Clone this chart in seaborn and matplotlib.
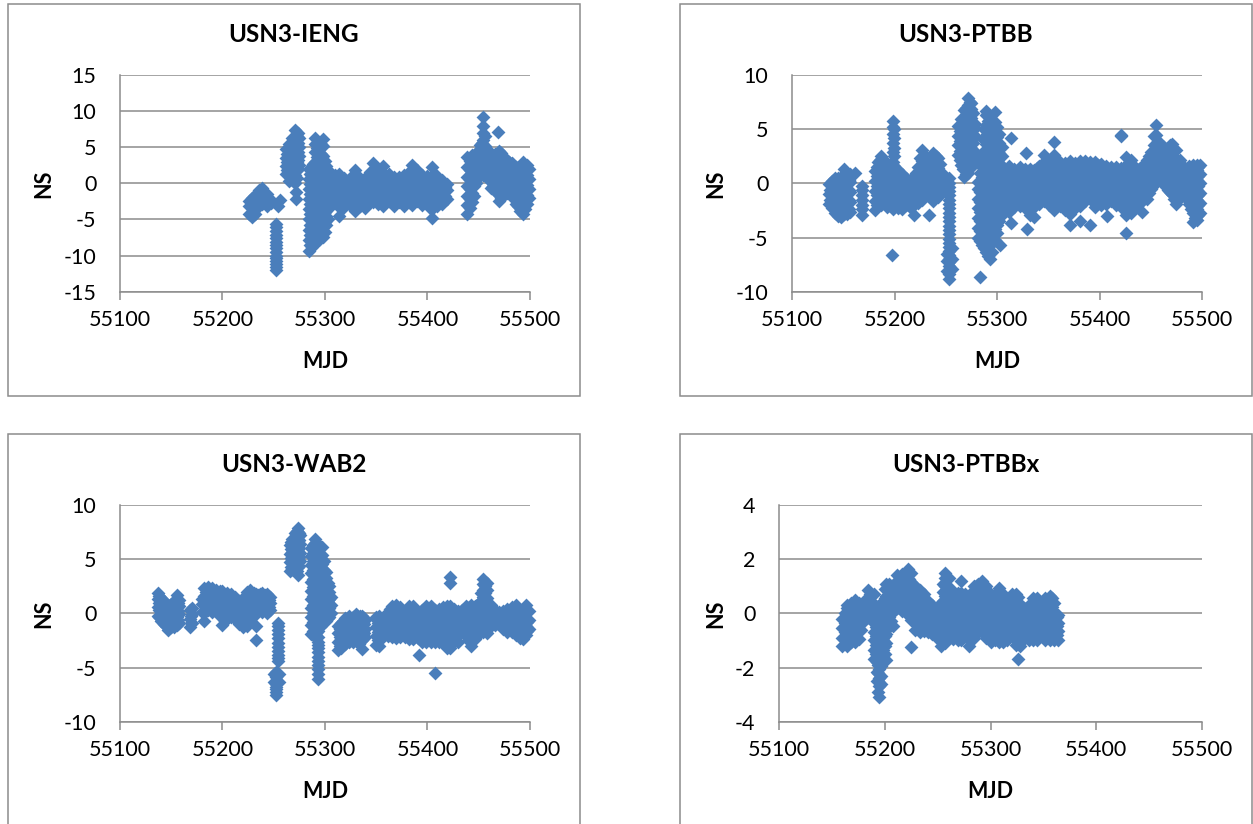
import matplotlib
matplotlib.use('Agg')
import matplotlib.pyplot as plt
import pandas as pd
import seaborn as sns
from matplotlib.patches import Rectangle

FIG_W, FIG_H = 1253, 824
BLUE = '#4a7ebb'
GREY = '#8c8c8c'

x_ticks = [55100, 55200, 55300, 55400, 55500]

titles = ['USN3-IENG', 'USN3-PTBB', 'USN3-WAB2', 'USN3-PTBBx']
y_ticks_ieng = [-15, -10, -5, 0, 5, 10, 15]
y_ticks_ptbb = [-10, -5, 0, 5, 10]
y_ticks_wab2 = [-10, -5, 0, 5, 10]
y_ticks_ptbbx = [-4, -2, 0, 2, 4]

ieng_days = [55226, 55229, 55232, 55236, 55239, 55243, 55247, 55254, 55256, 55252,
             55262, 55265, 55268, 55271, 55272, 55274,
             55284, 55287, 55290, 55294, 55298, 55301,
             55305, 55310, 55314, 55319, 55324, 55329, 55334, 55339, 55344, 55347,
             55352, 55357, 55362, 55367, 55372, 55377, 55382, 55385, 55390, 55395,
             55400, 55404, 55409, 55414, 55419,
             55439, 55443, 55447, 55451, 55454, 55458, 55462, 55466, 55469, 55470,
             55474, 55478, 55482, 55486, 55490, 55493, 55497, 55499]
ieng_ns = [[-4.2, -3.2, -2.4], [-4.6, -3.4, -2.0], [-4.2, -2.9, -1.6], [-3.0, -1.9, -0.9],
           [-2.9, -1.7, -0.6], [-3.2, -2.3, -1.5], [-2.7, -2.3], [-3.2], [-2.3],
           [-5.6, -6.6, -7.6, -8.6, -9.5, -10.4, -11.2, -12.0],
           [1.3, 2.4, 3.5, 4.7], [0.3, 1.4, 2.5, 3.6, 4.7, 5.4], [0.4, 1.6, 2.8, 4.0, 5.2, 6.3],
           [0.1, 1.2, 2.4, 3.6, 4.8, 6.0, 7.4], [-2.2, -1.2], [2.0, 3.2, 4.4, 5.6, 7.0],
           [-9.3, -7.8, -6.4, -5.0, -3.6, -2.2, -0.8, 0.6, 2.0],
           [-8.8, -7.4, -6.0, -4.6, -3.2, -1.8, -0.4, 1.0, 2.4],
           [-8.2, -6.8, -5.4, -4.0, -2.6, -1.2, 0.2, 1.6, 3.0, 4.4, 5.4, 6.3],
           [-7.8, -6.3, -5.0, -3.6, -2.2, -0.8, 0.6, 2.0, 3.4, 4.8, 5.6],
           [-7.4, -6.0, -4.6, -3.2, -1.8, -0.4, 1.0, 2.4, 3.8, 5.2, 6.2],
           [-5.8, -4.5, -3.0, -1.6, -0.2, 1.2, 2.4],
           [-3.2, -1.8, -0.4, 1.0], [-2.6, -1.2, 0.2, 1.2], [-4.5, -3.3, -1.9, -0.5, 0.9, 1.3],
           [-2.8, -1.4, 0.0, 0.8], [-3.0, -1.6, -0.2, 0.8], [-3.8, -2.4, -1.0, 0.4, 1.9],
           [-3.2, -1.8, -0.4, 0.8], [-3.4, -2.0, -0.6, 0.8], [-2.6, -1.2, 0.2, 1.6],
           [-2.6, -1.2, 0.2, 1.6, 2.8], [-2.9, -1.5, -0.1, 1.3, 1.9], [-3.1, -1.7, -0.3, 1.1, 2.4],
           [-2.5, -1.1, 0.3, 1.3], [-3.1, -1.7, -0.3, 0.9], [-2.6, -1.2, 0.2, 0.9],
           [-3.1, -1.7, -0.3, 1.1], [-2.6, -1.2, 0.2, 1.6], [-3.0, -1.6, -0.2, 1.2, 2.6],
           [-2.4, -1.0, 0.4, 1.8], [-3.0, -1.6, -0.2, 1.1], [-2.8, -1.4, 0.0, 1.0],
           [-4.8, -3.6, -2.2, -0.8, 0.6, 2.2], [-3.2, -1.8, -0.4, 0.8], [-2.9, -1.5, -0.1, 0.4],
           [-2.2, -0.9, -0.1],
           [-4.3, -3.0, -1.7, -0.4, 0.9, 2.2, 3.6], [-2.6, -1.3, 0.0, 1.3, 2.6, 3.9],
           [0.1, 1.3, 2.5, 3.8, 4.2], [1.3, 2.6, 3.9, 5.3],
           [1.1, 2.4, 3.7, 5.0, 6.0, 7.0, 7.9, 9.2], [1.5, 2.8, 3.9, 4.8],
           [-0.6, 0.8, 2.1, 3.4, 3.8], [-1.0, 0.3, 1.7, 3.1, 4.0], [7.15],
           [-2.4, -1.0, 0.4, 1.8, 3.2, 4.5], [-1.8, -0.5, 0.9, 2.3, 3.6],
           [-1.4, -0.1, 1.3, 2.7, 3.3], [-1.8, -0.5, 0.9, 2.2, 2.8], [-2.8, -1.4, 0.0, 1.4, 2.2],
           [-3.8, -2.4, -1.0, 0.4, 1.8, 2.2], [-4.3, -3.0, -1.7, -0.3, 1.1, 2.9],
           [-2.9, -1.6, -0.2, 1.2, 2.6], [-2.0, -0.8, 0.6, 2.0]]

# second reading pass, the points inside the solid parts of the cloud
ieng_inner_days = [55233, 55252, 55263, 55266, 55269, 55272.5, 55275,
                   55285.5, 55288.5, 55292, 55296, 55300, 55303,
                   55307.5, 55312, 55317, 55322, 55327, 55332, 55337, 55342, 55350, 55355,
                   55360, 55365, 55370, 55375, 55380, 55388, 55393, 55398, 55402, 55407,
                   55412, 55417, 55441, 55445, 55449, 55453, 55456, 55460, 55464, 55468,
                   55472, 55476, 55480, 55484, 55488, 55491.5, 55495]
ieng_inner_ns = [[-3.6, -2.3], [-6.1, -7.1, -8.1, -9.0, -10.0, -10.8, -11.6],
                 [1.9, 3.0, 4.1], [0.9, 2.0, 3.1, 4.2, 5.0], [1.0, 2.2, 3.4, 4.6, 5.8],
                 [0.7, 1.8, 3.0, 4.2, 5.4, 6.6], [2.6, 3.8, 5.0, 6.3],
                 [-8.6, -7.1, -5.7, -4.3, -2.9, -1.5, -0.1, 1.3],
                 [-8.5, -7.1, -5.7, -4.3, -2.9, -1.5, -0.1, 1.3, 2.7],
                 [-7.5, -6.1, -4.7, -3.3, -1.9, -0.5, 0.9, 2.3, 3.7, 4.9],
                 [-7.1, -5.6, -4.3, -2.9, -1.5, -0.1, 1.3, 2.7, 4.1, 5.5],
                 [-6.7, -5.3, -3.9, -2.5, -1.1, 0.3, 1.7, 3.1], [-4.9, -3.5, -2.1, -0.7, 0.7, 1.8],
                 [-2.5, -1.1, 0.3], [-2.0, -0.6, 0.7], [-3.5, -2.1, -0.7, 0.5], [-2.3, -0.9, 0.3],
                 [-3.1, -1.7, -0.3, 1.0], [-2.6, -1.1, 0.4], [-2.6, -1.2, 0.1], [-2.0, -0.6, 0.8],
                 [-2.0, -0.6, 0.8, 2.0], [-2.3, -0.9, 0.5, 1.7], [-1.8, -0.4, 0.9], [-2.4, -1.0, 0.4],
                 [-1.9, -0.5, 0.5], [-2.4, -1.0, 0.3], [-1.9, -0.5, 0.9], [-2.3, -0.9, 0.5, 1.9],
                 [-2.4, -0.9, 0.6], [-2.1, -0.7, 0.5], [-3.4, -2.1, -0.7, 0.7], [-2.5, -1.1, 0.3, 1.3],
                 [-2.3, -0.9, 0.3], [-1.8, -0.5],
                 [-3.4, -2.1, -0.8, 0.5, 1.8, 3.1], [-1.7, -0.4, 0.9, 2.2, 3.5], [0.7, 2.0, 3.2, 4.5],
                 [1.7, 3.0, 4.4, 5.6], [1.4, 2.7, 3.9, 5.2, 6.5], [0.4, 1.7, 3.0, 4.1],
                 [-0.3, 1.0, 2.4, 3.8], [-1.4, -0.2, 1.1, 2.5, 3.9], [-2.0, -0.7, 0.7, 2.0, 3.4, 4.2],
                 [-1.2, 0.2, 1.6, 3.0], [-1.1, 0.4, 1.8, 2.9], [-2.1, -0.9, 0.5, 1.8],
                 [-3.2, -1.9, -0.5, 0.9, 2.0], [-3.6, -2.3, -1.0, 0.4, 1.6, 2.6],
                 [-3.5, -2.2, -0.9, 0.5, 1.9, 2.5]]

ptbb_days = [55136, 55139, 55142, 55145, 55148, 55151, 55154, 55157, 55161, 55168,
             55181, 55184, 55187, 55190, 55193, 55198, 55199, 55203, 55207, 55211, 55215,
             55219, 55223, 55227, 55230, 55234, 55238, 55242, 55246,
             55251, 55253, 55256, 55262, 55265, 55268, 55272, 55275, 55279,
             55281, 55283, 55285, 55289, 55293, 55298, 55302, 55303,
             55307, 55312, 55314, 55317, 55322, 55327, 55328, 55329, 55332, 55336,
             55341, 55346, 55351, 55356, 55361, 55366, 55371, 55376, 55381, 55386,
             55391, 55396, 55401, 55406, 55407, 55411, 55416, 55421, 55426, 55431,
             55436, 55441, 55446, 55450, 55455, 55459, 55463, 55467, 55471, 55475,
             55479, 55483, 55487, 55491, 55495, 55498]
ptbb_ns = [[-1.9, -1.0, -0.1], [-2.3, -1.4, -0.5, 0.2], [-2.7, -1.8, -0.9, 0.0, 0.5],
           [-3.0, -2.2, -1.3, -0.4, 0.5], [-3.1, -2.2, -1.3, -0.4, 0.5],
           [-2.8, -1.9, -1.0, -0.1, 0.8, 1.3], [-2.8, -1.9, -1.0, -0.1, 0.7],
           [-2.6, -1.7, -0.8, 0.1, 0.9], [1.0], [-2.9, -2.0, -1.1, -0.2],
           [-2.5, -1.6, -0.7, 0.2, 1.1], [-1.6, -0.7, 0.2, 1.1, 2.0],
           [-2.0, -1.1, -0.2, 0.7, 1.6, 2.5], [-1.6, -0.7, 0.2, 1.1, 2.0],
           [-2.2, -1.3, -0.4, 0.5, 1.4, 1.9], [-6.6],
           [-2.4, -1.5, -0.6, 0.3, 1.2, 2.0, 2.9, 3.7, 4.6, 5.2, 5.75],
           [-2.3, -1.4, -0.5, 0.4, 1.2], [-2.4, -1.5, -0.6, 0.3, 0.9], [-2.0, -1.1, -0.2, 0.5],
           [-2.2, -1.3, -0.4, 0.3], [-2.9, -2.0, -1.1, -0.2, 0.6], [-1.8, -0.9, 0.0, 0.9, 1.5],
           [-1.5, -0.6, 0.3, 1.2, 2.1, 3.1], [-1.2, -0.3, 0.6, 1.5, 2.4],
           [-2.9, -1.1, -0.2, 0.7, 1.6, 2.2], [-1.6, -0.7, 0.2, 1.1, 2.0, 2.8],
           [-1.3, -0.4, 0.5, 1.4, 2.3], [-0.8, 0.1, 1.0],
           [-6.5, -7.2, -8.1],
           [0.45, -0.3, -1.1, -1.9, -2.7, -3.5, -4.3, -5.1, -5.9, -6.6, -7.3, -8.0, -8.8],
           [-6.0, -7.0, -7.9],
           [2.6, 3.5, 4.4, 5.3], [1.7, 2.6, 3.5, 4.4, 5.3, 5.9],
           [0.6, 1.4, 2.3, 3.2, 4.1, 5.0, 5.9, 6.8], [1.0, 1.9, 2.8, 3.7, 4.6, 5.5, 6.4, 7.2, 7.9],
           [1.5, 2.4, 3.3, 4.2, 5.0, 6.0, 6.9, 7.4], [2.0, 2.9, 4.3, 5.1, 5.5],
           [-5.0, -4.1, -3.2, -2.3, -1.4, -0.5, 0.1], [-8.6],
           [-5.7, -4.8, -3.9, -3.0, -2.1, -1.2, -0.3, 0.6, 1.5, 2.4],
           [-6.3, -5.4, -4.5, -3.6, -2.7, -1.8, -0.9, 0.0, 0.9, 1.8, 2.7, 3.6, 4.5, 5.4, 6.3, 6.7],
           [-7.0, -5.7, -4.8, -3.9, -3.0, -2.1, -1.2, -0.3, 0.6, 1.5, 2.4, 3.3, 4.2, 5.1, 6.0],
           [-5.2, -4.2, -3.3, -2.4, -1.5, -0.6, 0.3, 1.2, 2.1, 3.0, 3.9, 4.8, 5.7, 6.55],
           [-3.5, -2.6, -1.7, -0.8, 0.1, 1.0, 1.9, 2.8, 3.7, 4.6], [-5.7],
           [-2.3, -1.4, -0.5, 0.4, 1.3], [-2.6, -1.7, -0.8, 0.1, 1.0, 1.6], [-3.7, 4.2],
           [-2.2, -1.3, -0.4, 0.5, 1.3], [-2.1, -1.2, -0.3, 0.6, 1.5],
           [-2.3, -1.4, -0.5, 0.4, 1.3], [2.8], [-4.2], [-2.9, -2.0, -1.1, -0.2, 0.7, 1.3],
           [-3.1, -2.2, -1.3, -0.4, 0.5, 1.2],
           [-1.9, -1.0, -0.1, 0.8, 1.6], [-1.6, -0.7, 0.2, 1.1, 2.0, 2.6],
           [-2.0, -1.1, -0.2, 0.7, 1.6, 2.1], [-2.5, -1.6, -0.7, 0.2, 1.1, 2.0, 2.6, 3.85],
           [-2.1, -1.2, -0.3, 0.6, 1.5, 2.0], [-2.5, -1.6, -0.7, 0.2, 1.1, 1.9],
           [-3.85, -2.8, -1.9, -1.0, -0.1, 0.8, 1.7, 2.1], [-2.3, -1.4, -0.5, 0.4, 1.3, 1.9],
           [-3.5, -2.1, -1.2, -0.3, 0.6, 1.5, 2.1], [-1.6, -0.7, 0.2, 1.1, 2.1],
           [-3.8, -1.4, -0.5, 0.4, 1.3, 2.0], [-2.2, -1.2, -0.3, 0.6, 1.5, 2.0],
           [-2.0, -1.1, -0.2, 0.7, 1.6, 1.8], [-1.9, -1.0, -0.1, 0.8, 1.6], [-3.0],
           [-1.6, -0.7, 0.2, 1.1, 1.5], [-2.0, -1.1, -0.2, 0.7, 1.5],
           [-2.2, -1.3, -0.4, 0.5, 1.4, 4.4, 4.5], [-4.55, -2.9, -2.0, -1.1, -0.2, 0.7, 1.6, 2.4],
           [-2.7, -1.8, -0.9, 0.0, 0.9, 1.8, 2.2], [-2.2, -1.3, -0.4, 0.5, 1.4],
           [-2.6, -1.6, -0.7, 0.2, 1.1, 1.6], [-1.4, -0.5, 0.4, 1.3, 2.2],
           [-0.5, 0.4, 1.3, 2.2, 2.9], [0.0, 0.9, 1.8, 2.7, 3.6, 4.5, 5.4],
           [0.3, 1.2, 2.1, 3.0, 3.5], [0.1, 1.0, 1.9, 2.8, 3.4], [-0.6, 0.3, 1.2, 2.1, 3.0],
           [-1.0, -0.1, 0.8, 1.7, 2.6, 3.6], [-1.9, -1.0, -0.1, 0.8, 1.7, 3.1],
           [-1.2, -0.3, 0.6, 1.5, 2.2], [-1.3, -0.4, 0.5, 1.2], [-1.9, -1.0, -0.1, 0.8, 1.6],
           [-3.6, -2.7, -1.8, -0.9, 0.0, 0.9, 1.7], [-3.4, -2.4, -1.5, -0.6, 0.3, 1.2, 1.7],
           [-2.7, -1.8, -0.9, 0.0, 0.9, 1.7]]

ptbb_inner_days = [55137.5, 55140.5, 55143.5, 55146.5, 55149.5, 55152.5, 55155.5, 55168,
                   55182.5, 55185.5, 55188.5, 55191.5, 55195, 55199.5, 55201, 55205, 55209,
                   55213, 55217, 55221, 55225, 55228.5, 55232, 55236, 55240, 55244, 55253,
                   55263.5, 55266.5, 55270, 55273.5, 55277,
                   55283, 55287, 55291, 55295.5, 55300, 55304.5,
                   55310, 55320, 55330, 55339, 55349, 55359, 55369, 55379, 55389, 55399,
                   55409, 55419, 55429, 55439,
                   55448, 55453, 55457, 55461, 55465, 55469, 55473, 55477, 55481, 55485,
                   55489, 55493, 55496.5]
ptbb_inner_ns = [[-1.5, -0.6], [-1.9, -1.0, -0.2], [-2.3, -1.4, -0.5, 0.2], [-2.6, -1.7, -0.8, 0.1],
                 [-2.7, -1.8, -0.9, 0.0, 0.8], [-2.4, -1.5, -0.6, 0.3], [-2.4, -1.5, -0.6, 0.3],
                 [-2.4, -1.5, -0.6],
                 [-2.0, -1.1, -0.2, 0.7, 1.5], [-1.2, -0.3, 0.6, 1.6, 2.2], [-1.4, -0.5, 0.4, 1.3, 2.2],
                 [-1.9, -1.0, -0.1, 0.8, 1.7], [-2.0, -1.1, -0.2, 0.7, 1.5],
                 [-2.0, -1.0, -0.1, 0.8, 1.6, 2.5, 3.3, 4.2, 5.0], [-1.9, -1.0, -0.1, 0.8],
                 [-2.0, -1.1, -0.2, 0.7], [-1.7, -0.8, 0.1], [-1.7, -0.8, 0.0], [-1.8, -0.9, 0.0],
                 [-1.5, -0.6, 0.3, 1.0], [-1.2, -0.3, 0.6, 1.5, 2.3], [-1.0, -0.1, 0.8, 1.7, 2.6],
                 [-0.7, 0.2, 1.1, 2.0], [-0.7, 0.2, 1.1, 2.0], [-1.0, -0.1, 0.8, 1.7, 2.5],
                 [-0.9, 0.0, 0.9, 1.8],
                 [0.0, -0.7, -1.5, -2.3, -3.1, -3.9, -4.7, -5.5, -6.2, -7.0, -7.6, -8.4],
                 [2.2, 3.0, 3.9, 4.8], [1.3, 2.2, 3.1, 4.0, 4.9, 5.7],
                 [0.9, 1.8, 2.7, 3.6, 4.5, 5.4, 6.3, 7.0], [1.4, 2.3, 3.2, 4.1, 5.0, 5.9, 6.8, 7.5],
                 [1.8, 2.8, 3.7, 4.6, 5.5, 6.5],
                 [-5.3, -4.4, -3.5, -2.6, -1.7, -0.8, 0.1, 1.0],
                 [-6.0, -5.1, -4.2, -3.3, -2.4, -1.5, -0.6, 0.3, 1.2, 2.1, 3.0, 4.0, 5.0],
                 [-6.7, -5.9, -5.0, -4.1, -3.2, -2.3, -1.4, -0.5, 0.4, 1.3, 2.2, 3.1, 4.0, 4.9, 5.8],
                 [-6.3, -5.2, -4.4, -3.5, -2.6, -1.7, -0.8, 0.1, 1.0, 1.9, 2.8, 3.7, 4.6, 5.5],
                 [-4.6, -3.8, -2.9, -2.0, -1.1, -0.2, 0.7, 1.6, 2.5, 3.4, 4.3, 5.2],
                 [-2.9, -2.0, -1.1, -0.2, 0.7, 1.6, 2.5, 3.4],
                 [-1.9, -1.2, -0.5, 0.2, 0.9], [-1.8, -0.9, -0.1, 0.7, 1.2], [-1.9, -1.1, -0.2, 0.6, 1.1],
                 [-1.6, -0.9, 0.0, 0.8, 1.4], [-1.5, -0.8, 0.1, 0.9, 1.7], [-1.7, -0.9, 0.0, 0.8, 1.7],
                 [-2.0, -1.2, -0.3, 0.5, 1.4], [-1.8, -0.9, -0.1, 0.8, 1.7], [-1.2, -0.4, 0.5, 1.4],
                 [-1.7, -0.8, 0.1, 1.0, 1.7], [-1.5, -0.6, 0.3, 1.1], [-1.8, -0.9, 0.0, 0.9],
                 [-2.2, -1.4, -0.5, 0.4, 1.3, 2.0], [-1.9, -1.0, -0.1, 0.8, 1.3],
                 [-0.9, 0.0, 0.9, 1.8, 2.5], [-0.1, 0.8, 1.7, 2.6, 3.5, 4.4], [0.4, 1.3, 2.2, 3.1, 3.9],
                 [0.6, 1.5, 2.4, 3.3], [-0.3, 0.6, 1.5, 2.4, 3.2], [-0.8, 0.1, 1.0, 1.9, 2.8, 3.5],
                 [-1.4, -0.5, 0.4, 1.3, 2.2, 3.2], [-1.5, -0.6, 0.3, 1.2, 2.1], [-1.0, -0.1, 0.8, 1.6],
                 [-1.4, -0.5, 0.4, 1.3], [-2.4, -1.5, -0.6, 0.3, 1.2],
                 [-3.2, -2.3, -1.4, -0.5, 0.4, 1.3], [-2.9, -2.0, -1.1, -0.2, 0.7, 1.5]]

wab2_days = [55137, 55140, 55143, 55147, 55150, 55153, 55156, 55158, 55168, 55170,
             55180, 55182, 55186, 55190, 55194, 55198, 55200, 55204, 55208, 55212, 55216,
             55220, 55224, 55227, 55231, 55233, 55235, 55239, 55243, 55246,
             55254, 55252, 55250, 55255, 55266, 55268, 55271, 55274, 55276,
             55286, 55290, 55293, 55297, 55301, 55304, 55306,
             55313, 55316, 55320, 55323, 55327, 55330, 55333, 55336, 55339,
             55350, 55353, 55357, 55361, 55365, 55369, 55373, 55378, 55382, 55386,
             55391, 55392, 55395, 55399, 55403, 55407, 55411, 55415, 55419, 55422,
             55426, 55430, 55434, 55438, 55442, 55446, 55450, 55454, 55458, 55462,
             55466, 55470, 55474, 55478, 55482, 55486, 55490, 55493, 55496, 55499]
wab2_ns = [[-0.2, 0.6, 1.3, 1.9], [-0.7, 0.1, 0.9, 1.4], [-1.0, -0.2, 0.6, 1.1],
           [-1.5, -0.7, 0.1, 0.8], [-1.3, -0.5, 0.3, 0.9], [-1.3, -0.5, 0.3, 1.1],
           [-1.1, -0.3, 0.5, 1.3, 1.7], [-0.9, -0.1, 0.7, 1.2], [-1.3, -0.5, 0.3],
           [-0.9, -0.1, 0.5],
           [0.1, 0.9, 1.3], [-0.75, 0.0, 0.8, 1.6, 2.3], [0.3, 1.1, 1.9, 2.4], [0.1, 0.9, 1.7, 2.3],
           [0.3, 1.1, 1.9, 2.2], [-0.2, 0.6, 1.4, 2.1], [-1.1, -0.3, 0.5, 1.3, 2.1],
           [-0.4, 0.4, 1.2, 1.9], [-0.3, 0.5, 1.3, 1.8], [-0.5, 0.3, 1.1, 1.5], [-1.0, -0.2, 0.6, 1.1],
           [-1.3, -0.5, 0.3, 0.9], [-1.2, -0.4, 0.4, 1.2, 2.0], [-0.8, 0.0, 0.8, 1.6, 2.15],
           [-0.2, 0.6, 1.4, 1.9], [-1.2, -2.5], [0.2, 1.0, 1.7], [0.1, 0.9, 1.7, 1.9],
           [0.0, 0.7, 1.4, 1.8], [0.3, 1.0, 1.5],
           [-0.85, -1.5, -2.3, -3.1, -3.8, -4.4], [-5.4, -5.9, -6.5, -7.0, -7.5], [-5.6, -6.3], [-5.6, -6.3],
           [3.9, 4.7, 5.5, 6.3], [4.1, 4.9, 5.7, 6.5, 6.9], [4.2, 5.0, 5.8, 6.6, 7.4],
           [3.5, 4.3, 5.1, 5.9, 6.7, 7.5, 7.9], [4.8, 5.6, 6.4, 7.2],
           [-1.9, -1.1, -0.3, 0.5, 1.3, 2.1, 2.9, 3.7, 4.5, 5.3, 6.0],
           [-2.2, -1.4, -0.6, 0.2, 1.0, 1.8, 2.6, 3.4, 4.2, 5.0, 5.8, 6.5, 6.9],
           [-6.1, -5.1, -4.4, -3.6, -2.9, -2.2, -1.6, -0.8, 0.0, 0.8, 1.6, 2.4, 3.2, 4.0, 4.8, 5.6, 6.4],
           [-1.0, -0.2, 0.6, 1.4, 2.2, 3.0, 3.8, 4.6, 5.4, 6.1],
           [-0.7, 0.1, 0.9, 1.7, 2.5, 3.3, 3.8], [-0.3, 0.5, 1.3, 2.0, 2.5], [0.0, 0.8, 1.5],
           [-3.4, -2.6, -1.8, -1.2], [-3.2, -2.4, -1.6, -0.9], [-2.8, -2.0, -1.2, -0.4],
           [-2.6, -1.8, -1.0, -0.2], [-2.6, -1.8, -1.0, -0.3], [-2.4, -1.6, -0.8, -0.1],
           [-2.8, -2.0, -1.2, -0.4], [-3.3, -2.5, -1.7, -0.9, -0.2], [-2.2, -1.4, -0.6],
           [-2.9, -2.1, -1.3, -0.5, -0.3], [-3.0, -2.2, -1.4, -0.6, -0.2], [-2.2, -1.4, -0.6],
           [-2.1, -1.3, -0.5, 0.1], [-2.2, -1.4, -0.6, 0.2, 0.7], [-2.3, -1.5, -0.7, 0.1, 0.75],
           [-2.2, -1.4, -0.6, 0.2, 0.6], [-2.2, -1.4, -0.6, 0.2], [-2.4, -1.6, -0.8, 0.0, 0.7],
           [-2.4, -1.6, -0.8, 0.0, 0.7], [-2.3, -1.5, -0.7, 0.1], [-3.85],
           [-2.6, -1.8, -1.0, -0.2, 0.3], [-2.6, -1.8, -1.0, -0.2, 0.7], [-2.6, -1.8, -1.0, -0.2, 0.7],
           [-5.5, -2.6, -1.8, -1.0, -0.2, 0.3], [-2.6, -1.8, -1.0, -0.2, 0.4],
           [-2.7, -1.9, -1.1, -0.3, 0.6], [-3.2, -2.4, -1.6, -0.8, 0.0, 0.7],
           [-3.2, -2.4, -1.6, -0.8, 0.0, 0.7, 2.8, 3.4], [-2.6, -1.8, -1.0, -0.2, 0.4],
           [-2.6, -1.8, -1.0, -0.2, 0.2], [-1.7, -0.9, -0.1, 0.3], [-2.0, -1.2, -0.4, 0.4, 0.7],
           [-3.0, -2.2, -1.4, -0.6, 0.2, 0.8], [-2.4, -1.6, -0.8, 0.0, 0.7], [-1.9, -1.1, -0.3, 0.5, 1.0],
           [-1.7, -0.9, -0.1, 0.7, 1.5, 2.2, 2.7, 3.15], [-1.8, -1.0, -0.2, 0.6, 1.4, 2.2, 2.8],
           [-1.2, -0.4, 0.4, 0.8], [-1.1, -0.3, 0.3], [-1.0, -0.2, 0.1], [-1.4, -0.6, 0.2],
           [-1.7, -0.9, -0.1, 0.4], [-1.7, -0.9, -0.1, 0.6], [-2.0, -1.2, -0.4, 0.4, 0.75],
           [-2.3, -1.5, -0.7, 0.1, 0.3], [-2.4, -1.6, -0.8, 0.0, 0.3], [-2.0, -1.2, -0.4, 0.4, 0.75],
           [-1.4, -0.6, 0.2]]

wab2_inner_days = [55138.5, 55141.5, 55145, 55148.5, 55151.5, 55154.5, 55157, 55169,
                   55184, 55188, 55192, 55196, 55202, 55206, 55210, 55214, 55218, 55222,
                   55225.5, 55229, 55233, 55237, 55241, 55245, 55254, 55252,
                   55267, 55269.5, 55272.5, 55275,
                   55288, 55291.5, 55293, 55295, 55299, 55302.5,
                   55314.5, 55318, 55321.5, 55325, 55328.5, 55331.5, 55334.5, 55338,
                   55351.5, 55355, 55359, 55363, 55367, 55371, 55375.5, 55380, 55384,
                   55388.5, 55393, 55397, 55401, 55405, 55409, 55413, 55417, 55421, 55424,
                   55428, 55432, 55436, 55440, 55444, 55448, 55452, 55456, 55460, 55464,
                   55472, 55476, 55480, 55484, 55488, 55491.5, 55494.5, 55497.5]
wab2_inner_ns = [[-0.3, 0.3, 1.0, 1.6], [-0.5, 0.3, 1.1], [-1.2, -0.4, 0.4, 0.9], [-1.1, -0.3, 0.5],
                 [-0.9, -0.1, 0.7], [-0.9, -0.1, 0.7, 1.2], [-0.6, 0.2, 1.0], [-0.9, -0.2],
                 [0.4, 1.2, 2.0], [0.5, 1.3, 2.1], [0.5, 1.3, 2.0], [0.5, 1.3, 1.8],
                 [-0.7, 0.1, 0.9, 1.7], [0.0, 0.8, 1.6], [0.1, 0.9, 1.4], [-0.6, 0.2, 1.0],
                 [-0.8, 0.0, 0.8], [-0.7, 0.1, 0.9, 1.6], [-0.4, 0.4, 1.2, 1.9], [0.2, 1.0, 1.8],
                 [0.4, 1.2, 1.8], [0.6, 1.3, 1.8], [0.5, 1.2, 1.7], [0.6, 1.2],
                 [-1.2, -1.9, -2.7, -3.5, -4.1], [-5.7, -6.2, -6.8, -7.3],
                 [4.3, 5.1, 5.9, 6.6], [4.5, 5.3, 6.1, 6.9], [3.9, 4.7, 5.5, 6.2, 7.0, 7.6],
                 [4.4, 5.2, 6.0, 6.8, 7.4],
                 [-1.6, -0.8, 0.0, 0.8, 1.6, 2.4, 3.2, 4.0, 4.8, 5.6, 6.3],
                 [-1.8, -1.0, -0.2, 0.6, 1.4, 2.2, 3.0, 3.8, 4.6, 5.4, 6.2],
                 [-5.6, -4.8, -4.0, -3.2, -2.6],
                 [-1.3, -0.4, 0.4, 1.2, 2.0, 2.8, 3.6, 4.4, 5.2, 6.0],
                 [-0.8, 0.0, 0.8, 1.6, 2.4, 3.2, 4.0, 4.8], [-0.4, 0.4, 1.2, 2.0, 2.8],
                 [-3.0, -2.2, -1.4], [-2.8, -2.0, -1.2, -0.7], [-2.4, -1.6, -0.8], [-2.2, -1.4, -0.6],
                 [-2.2, -1.4, -0.6], [-2.0, -1.2, -0.4], [-2.4, -1.6, -0.8, -0.2], [-1.8, -1.0, -0.4],
                 [-2.5, -1.7, -0.9], [-1.8, -1.0], [-1.8, -1.0, -0.2], [-1.8, -1.0, -0.2, 0.4],
                 [-1.9, -1.1, -0.3, 0.5], [-1.8, -1.0, -0.2, 0.4], [-1.8, -1.0, -0.2],
                 [-1.9, -1.1, -0.3, 0.3], [-2.0, -1.2, -0.4, 0.3], [-1.9, -1.1, -0.3, 0.3],
                 [-2.0, -1.2, -0.4], [-2.2, -1.4, -0.6, 0.2], [-2.2, -1.4, -0.6, 0.2],
                 [-2.2, -1.4, -0.6, 0.1], [-2.2, -1.4, -0.6], [-2.2, -1.4, -0.6, 0.1],
                 [-2.4, -1.6, -0.8, 0.1], [-2.7, -1.9, -1.1, -0.3, 0.3], [-2.2, -1.4, -0.6],
                 [-2.2, -1.4, -0.6], [-1.3, -0.5], [-1.6, -0.8, 0.0], [-2.5, -1.8, -1.0, -0.2, 0.5],
                 [-1.9, -1.1, -0.3, 0.4], [-1.5, -0.7, 0.1, 0.8], [-1.3, -0.5, 0.3, 1.1, 1.9],
                 [-1.3, -0.5, 0.3, 1.1, 1.9, 2.5], [-1.3, -0.5, 0.3], [-0.8, 0.0],
                 [-1.0, -0.2], [-1.3, -0.5], [-1.3, -0.5, 0.2], [-1.6, -0.8, 0.0, 0.5],
                 [-1.9, -1.1, -0.3], [-2.0, -1.2, -0.4], [-1.6, -0.8, 0.0], [-1.6, -0.8, 0.2]]

ptbbx_days = [55160, 55164, 55168, 55172, 55176, 55180, 55184, 55190, 55193, 55195, 55198,
              55201, 55204, 55208, 55212, 55216, 55220, 55222, 55225, 55229, 55233, 55237,
              55241, 55245, 55249, 55253, 55257, 55261, 55265, 55269, 55272, 55276, 55280,
              55284, 55288, 55292, 55296, 55300, 55304, 55308, 55312, 55316, 55320, 55324,
              55326, 55328, 55332, 55336, 55340, 55344, 55348, 55352, 55356, 55360, 55364]
ptbbx_ns = [[-1.2, -0.9, -0.55, -0.2], [-1.2, -0.85, -0.5, -0.15, 0.2, 0.3],
            [-1.05, -0.75, -0.4, -0.05, 0.3, 0.4], [-1.05, -0.7, -0.35, 0.0, 0.35, 0.5],
            [-0.95, -0.6, -0.25, 0.1, 0.4], [-0.3, 0.05, 0.4, 0.45], [-0.15, 0.2, 0.55, 0.88],
            [-1.7, -1.35, -1.0, -0.7, -0.35, 0.0, 0.35, 0.7],
            [-2.5, -2.15, -1.8, -1.45, -1.1, -0.8, -0.45, -0.1, 0.25],
            [-3.1, -2.7, -2.4, -2.05, -1.7, -1.35, -1.0, -0.65, -0.3, 0.1],
            [-1.7, -1.35, -1.0, -0.65, -0.3, 0.05, 0.45],
            [-1.72, -1.1, -0.75, -0.4, -0.05, 0.3, 0.65, 1.1],
            [-0.5, -0.15, 0.15, 0.5, 0.85, 1.1], [-0.45, 0.05, 0.4, 0.75, 1.05],
            [0.2, 0.55, 0.9, 1.2, 1.4], [0.1, 0.45, 0.8, 1.1, 1.45], [0.0, 0.35, 0.7, 1.05, 1.4],
            [0.0, 0.35, 0.7, 1.05, 1.4, 1.65], [-1.23, -0.25, 0.1, 0.45, 0.8, 1.15, 1.5],
            [-0.6, -0.25, 0.1, 0.45, 0.8, 1.0], [-0.7, -0.35, 0.0, 0.35, 0.7, 0.85],
            [-0.65, -0.3, 0.05, 0.4, 0.7], [-0.7, -0.35, 0.0, 0.35, 0.45],
            [-0.75, -0.4, -0.05, 0.3], [-0.9, -0.55, -0.2, 0.15],
            [-1.2, -0.85, -0.5, -0.15, 0.2, 0.4],
            [-1.1, -0.75, -0.4, -0.05, 0.3, 0.65, 1.0, 1.3, 1.5],
            [-0.9, -0.55, -0.2, 0.15, 0.5, 0.8, 1.3], [-0.95, -0.6, -0.25, 0.1, 0.45, 0.7],
            [-1.0, -0.65, -0.3, 0.05, 0.4, 0.75], [-1.0, -0.65, -0.3, 0.05, 0.4, 0.75, 1.2],
            [-0.7, -0.35, 0.0, 0.35, 0.7], [-1.2, -0.85, -0.5, -0.15, 0.2, 0.55],
            [-0.9, -0.55, -0.2, 0.15, 0.5, 0.85, 1.0], [-0.6, -0.25, 0.1, 0.45, 0.8, 1.1],
            [-0.6, -0.25, 0.1, 0.45, 0.8, 1.2], [-0.9, -0.55, -0.2, 0.15, 0.5, 0.85, 1.0],
            [-1.05, -0.7, -0.35, 0.0, 0.35, 0.7], [-1.0, -0.65, -0.3, 0.05, 0.4, 0.7],
            [-1.05, -0.7, -0.35, 0.0, 0.35, 0.7, 0.95], [-1.05, -0.7, -0.35, 0.0, 0.35, 0.6],
            [-1.0, -0.65, -0.3, 0.05, 0.4], [-0.85, -0.5, -0.15, 0.2, 0.55, 0.7],
            [-1.15, -0.8, -0.45, -0.1, 0.25, 0.6, 0.7], [-1.7],
            [-1.2, -0.85, -0.5, -0.15, 0.2, 0.35], [-0.95, -0.6, -0.25, 0.1, 0.2],
            [-1.0, -0.65, -0.3, 0.05, 0.3], [-1.0, -0.65, -0.3, 0.05, 0.4, 0.55],
            [-1.0, -0.65, -0.3, 0.05, 0.35, 0.55], [-0.8, -0.45, -0.1, 0.2, 0.4],
            [-1.0, -0.65, -0.3, 0.05, 0.4, 0.55], [-1.0, -0.65, -0.3, 0.05, 0.4, 0.65],
            [-1.0, -0.65, -0.3, 0.05, 0.4], [-1.0, -0.65, -0.35, -0.05]]

ptbbx_inner_days = [55162, 55170, 55178, 55186, 55192, 55194, 55196.5, 55200, 55206, 55214, 55223,
                    55231, 55239, 55247, 55255, 55263, 55271, 55278, 55286, 55294, 55302, 55310,
                    55318, 55326, 55334, 55342, 55350, 55358, 55363]
ptbbx_inner_ns = [[-1.0, -0.7, -0.35, 0.0], [-0.9, -0.55, -0.2, 0.15], [-0.6, -0.2, 0.2], [0.05, 0.4, 0.7],
                  [-1.5, -1.15, -0.85, -0.5, -0.15, 0.2], [-2.9, -2.5, -2.2, -1.9, -1.55, -1.2],
                  [-2.6, -2.3, -1.95, -1.6, -1.25, -0.9, -0.55, -0.2],
                  [-1.5, -1.2, -0.85, -0.5, -0.15, 0.2, 0.55, 0.9], [-0.3, 0.05, 0.4, 0.7, 1.0],
                  [0.3, 0.65, 1.0, 1.3], [0.2, 0.55, 0.9, 1.25, 1.5], [-0.45, -0.1, 0.25, 0.6, 0.9],
                  [-0.5, -0.15, 0.2, 0.5], [-0.55, -0.2, 0.15], [-0.95, -0.6, -0.25, 0.1, 0.45, 0.8, 1.1],
                  [-0.7, -0.35, 0.0, 0.3, 0.6, 0.9], [-0.8, -0.45, -0.1, 0.25, 0.6],
                  [-0.9, -0.55, -0.2, 0.15, 0.5], [-0.75, -0.4, -0.05, 0.3, 0.65, 1.0],
                  [-0.75, -0.4, -0.05, 0.3, 0.65, 1.0], [-0.85, -0.5, -0.15, 0.2, 0.55],
                  [-0.85, -0.5, -0.15, 0.2, 0.55, 0.8], [-0.75, -0.4, -0.05, 0.3, 0.6],
                  [-1.0, -0.65, -0.3, 0.05, 0.4, 0.6], [-0.8, -0.45, -0.1, 0.15],
                  [-0.8, -0.45, -0.1, 0.25, 0.5], [-0.85, -0.5, -0.15, 0.2, 0.45],
                  [-0.8, -0.45, -0.1, 0.25, 0.55], [-0.8, -0.45, -0.15]]


def make_frame(days, values):
    df = pd.DataFrame({'MJD': days, 'NS': values})
    return df.explode('NS').astype({'NS': float})


def draw_panel(frame_box, plot_box, title, days, values, y_ticks):
    # boxes are (left, top, right, bottom) in image pixels
    left, top, right, bottom = frame_box
    fig.add_artist(Rectangle((left / FIG_W, 1 - bottom / FIG_H), (right - left) / FIG_W,
                             (bottom - top) / FIG_H, transform=fig.transFigure,
                             fill=False, edgecolor=GREY, linewidth=1.1))

    pl, pt, pr, pb = plot_box
    ax = fig.add_axes([pl / FIG_W, 1 - pb / FIG_H, (pr - pl) / FIG_W, (pb - pt) / FIG_H])
    sns.scatterplot(data=make_frame(days, values), x='MJD', y='NS', marker='D', s=50,
                    color=BLUE, linewidth=0, ax=ax, clip_on=False, zorder=3)

    ax.set_xlim(x_ticks[0], x_ticks[-1])
    ax.set_ylim(y_ticks[0], y_ticks[-1])
    ax.set_xticks(x_ticks)
    ax.set_yticks(y_ticks)
    ax.set_xticklabels([str(v) for v in x_ticks])
    ax.set_yticklabels([str(v) for v in y_ticks])
    ax.set_xlabel('')
    ax.set_ylabel('')
    ax.grid(axis='y', color=GREY, linewidth=1.1)
    ax.grid(axis='x', visible=False)
    ax.set_axisbelow(True)
    ax.tick_params(axis='x', length=6, width=1.1, color=GREY, pad=7, labelsize=15.5,
                   labelcolor='black', bottom=True)
    ax.tick_params(axis='y', length=0, pad=17, labelsize=15.5, labelcolor='black')
    for name in ['top', 'right']:
        ax.spines[name].set_visible(False)
    for name in ['left', 'bottom']:
        ax.spines[name].set_color(GREY)
        ax.spines[name].set_linewidth(1.1)

    centre = (left + right) / 2
    fig.text(centre / FIG_W, 1 - (top + 31.5) / FIG_H, title, ha='center', va='center',
             fontsize=17.5, fontweight='bold', color='black')
    fig.text((pl + pr) / 2 / FIG_W, 1 - (pb + 70) / FIG_H, 'MJD', ha='center', va='center',
             fontsize=15.5, fontweight='bold', color='black')
    fig.text((left + 36) / FIG_W, 1 - (pt + pb) / 2 / FIG_H, 'NS', ha='center', va='center',
             rotation=90, fontsize=15.5, fontweight='bold', color='black')


sns.set_theme(style='white')
plt.rcParams['font.family'] = ['Lato', 'DejaVu Sans']

fig = plt.figure(figsize=(FIG_W / 100, FIG_H / 100), dpi=100, facecolor='white')

draw_panel((7.5, 3.5, 580, 396), (120, 75, 530, 291.7), titles[0],
           ieng_days + ieng_inner_days, ieng_ns + ieng_inner_ns, y_ticks_ieng)
draw_panel((680, 3.5, 1252, 396), (792, 75, 1202, 291.7), titles[1],
           ptbb_days + ptbb_inner_days, ptbb_ns + ptbb_inner_ns, y_ticks_ptbb)
draw_panel((7.5, 433.5, 580, 830), (120, 505, 530, 721.7), titles[2],
           wab2_days + wab2_inner_days, wab2_ns + wab2_inner_ns, y_ticks_wab2)
draw_panel((680, 433.5, 1252, 830), (779, 505, 1202, 721.7), titles[3],
           ptbbx_days + ptbbx_inner_days, ptbbx_ns + ptbbx_inner_ns, y_ticks_ptbbx)

fig.savefig('out.png', dpi=100)
